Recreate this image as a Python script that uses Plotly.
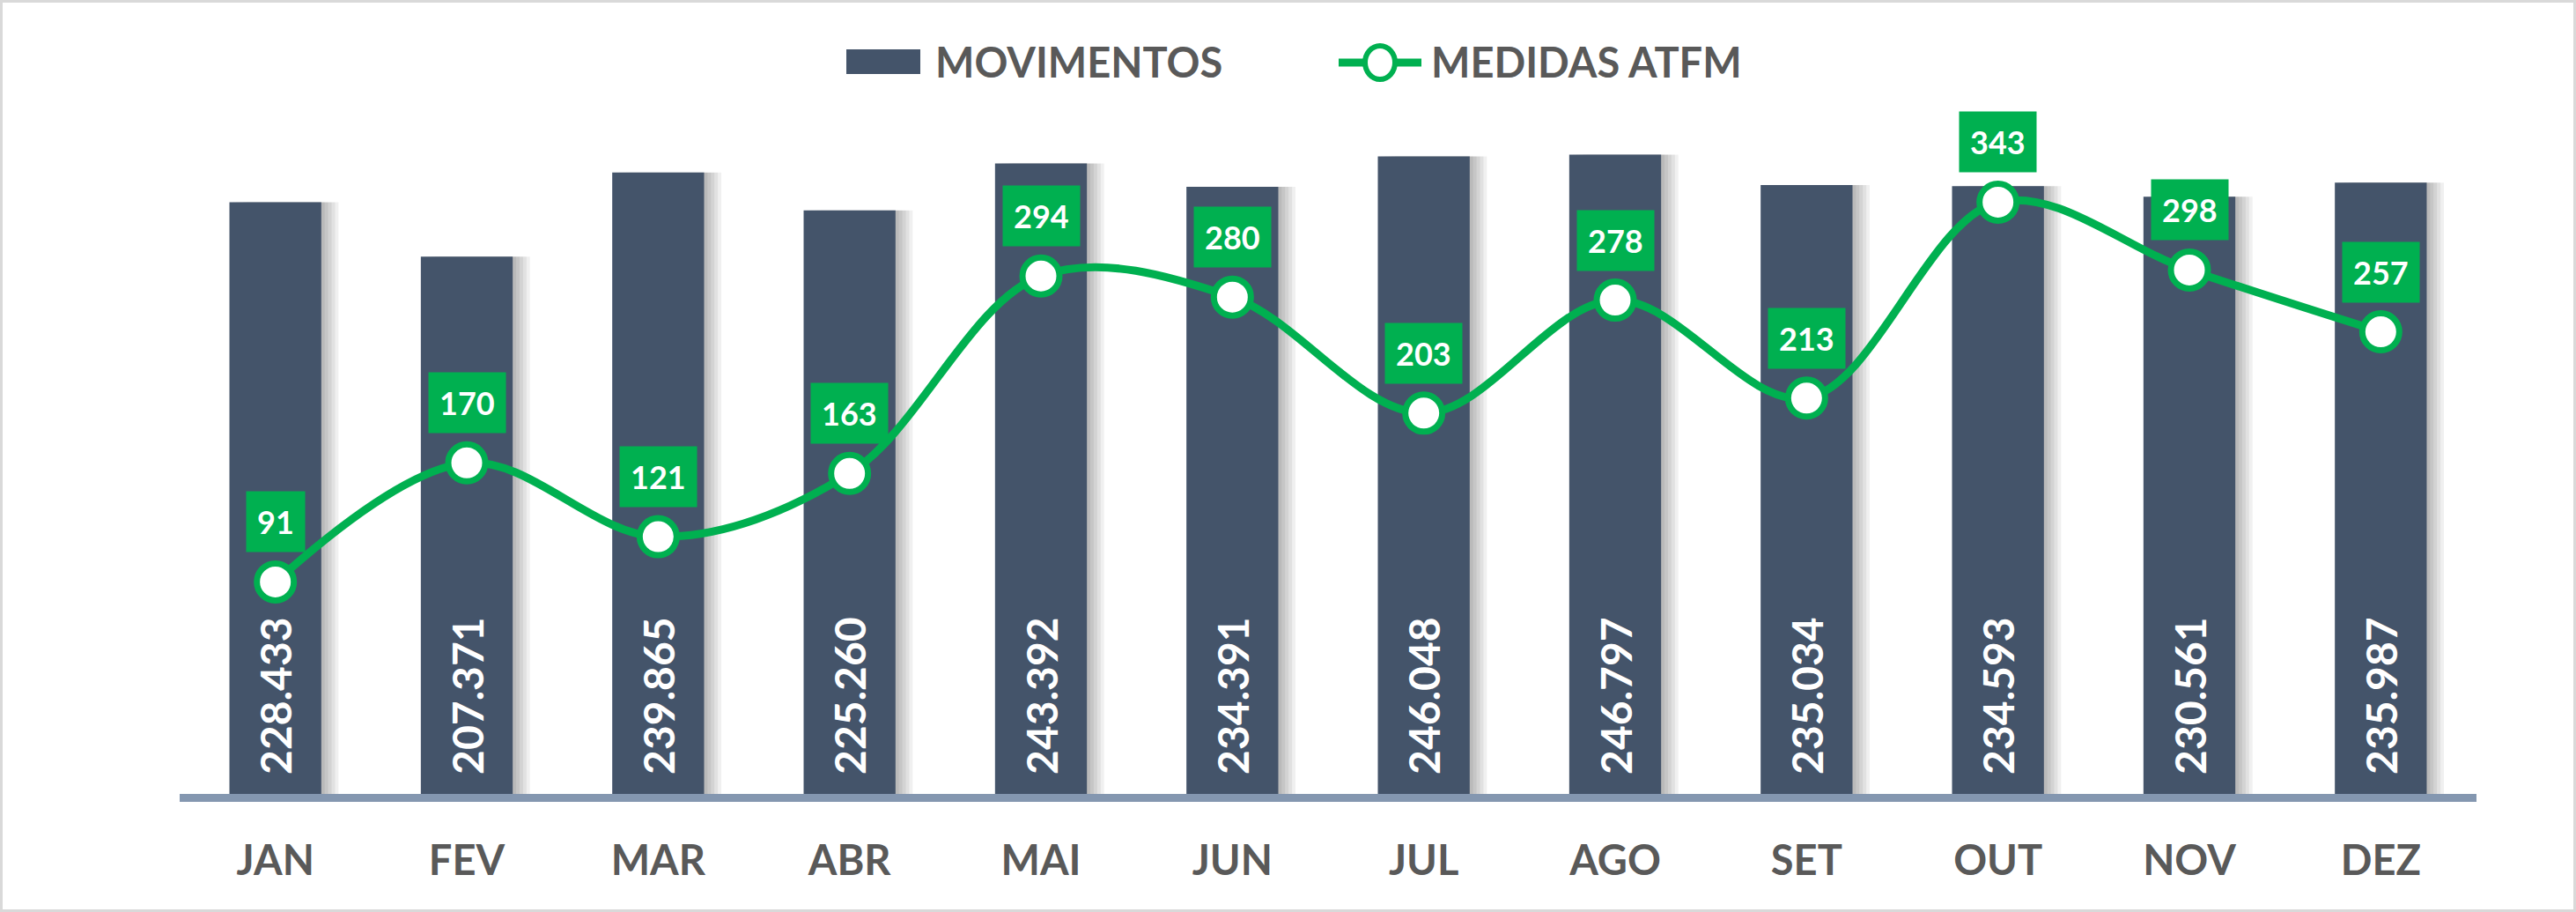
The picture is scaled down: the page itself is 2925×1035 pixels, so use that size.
import plotly.graph_objects as go

# ---- data ----
months = ["JAN", "FEV", "MAR", "ABR", "MAI", "JUN", "JUL", "AGO", "SET", "OUT", "NOV", "DEZ"]
movimentos = [228433, 207371, 239865, 225260, 243392, 234391, 246048, 246797, 235034, 234593, 230561, 235987]
medidas_atfm = [91, 170, 121, 163, 294, 280, 203, 278, 213, 343, 298, 257]
legend_names = ["MOVIMENTOS", "MEDIDAS ATFM"]

# ---- style ----
W, H = 2925, 1035
ML, MR, MT, MB = 204, 113, 100, 134
BAR_COLOR = "#44546A"
GREEN = "#00B050"
AXIS_COLOR = "#8497B0"
TEXT_GRAY = "#595959"
FONT = "Lato"
BAR_W = 0.48
LABEL_BASE = 6500  # lifts rotated bar labels off the baseline

plot_w = W - ML - MR
plot_h = H - MT - MB


def px_x(px):
    return (px - ML) / plot_w


def px_y(py):
    return (H - MB - py) / plot_h


fig = go.Figure()

# soft drop shadow to the right of each bar
for k in range(1, 6):
    fig.add_trace(go.Bar(
        x=months, y=movimentos, width=BAR_W, offset=-BAR_W / 2 + k * 0.018,
        marker=dict(color="rgba(0,0,0,0.06)", line=dict(width=0)),
        showlegend=False, hoverinfo="skip"))

fig.add_trace(go.Bar(
    x=months, y=movimentos, width=BAR_W, offset=-BAR_W / 2,
    marker=dict(color=BAR_COLOR, line=dict(width=0)),
    name=legend_names[0], showlegend=False))

labels = [f"{v:,}".replace(",", ".") for v in movimentos]
fig.add_trace(go.Bar(
    x=months, y=[v - LABEL_BASE for v in movimentos], base=LABEL_BASE,
    width=BAR_W, offset=-BAR_W / 2,
    marker=dict(color="rgba(0,0,0,0)", line=dict(width=0)),
    text=labels, textposition="inside", insidetextanchor="start", textangle=-90,
    constraintext="none",
    insidetextfont=dict(family=FONT, size=48, color="white", weight="bold"),
    showlegend=False, hoverinfo="skip"))

fig.add_trace(go.Scatter(
    x=months, y=medidas_atfm, yaxis="y2", mode="lines+markers",
    line=dict(color=GREEN, width=9, shape="spline", smoothing=1.0),
    marker=dict(size=42, color="white", line=dict(color=GREEN, width=7)),
    name=legend_names[1], showlegend=False))

annotations = []
for m, v in zip(months, medidas_atfm):
    annotations.append(dict(
        x=m, y=v, xref="x", yref="y2", yshift=68, text=str(v), showarrow=False,
        xanchor="center", yanchor="middle", bgcolor=GREEN, borderpad=12,
        font=dict(family=FONT, size=36, color="white", weight="bold")))

# custom legend
legend_font = dict(family=FONT, size=47, color=TEXT_GRAY, weight="bold")
annotations.append(dict(x=px_x(1060), y=px_y(70), xref="paper", yref="paper",
                        text=legend_names[0], showarrow=False, xanchor="left",
                        yanchor="middle", font=legend_font))
annotations.append(dict(x=px_x(1623), y=px_y(70), xref="paper", yref="paper",
                        text=legend_names[1], showarrow=False, xanchor="left",
                        yanchor="middle", font=legend_font))

shapes = [
    dict(type="rect", xref="paper", yref="paper", x0=px_x(961), x1=px_x(1045),
         y0=px_y(84), y1=px_y(56), fillcolor=BAR_COLOR, line=dict(width=0)),
    dict(type="line", xref="paper", yref="paper", x0=px_x(1520), x1=px_x(1614),
         y0=px_y(71), y1=px_y(71), line=dict(color=GREEN, width=9)),
    dict(type="circle", xref="paper", yref="paper", x0=px_x(1550), x1=px_x(1584),
         y0=px_y(90), y1=px_y(52), fillcolor="white", line=dict(color=GREEN, width=6)),
    # outer border
    dict(type="rect", xref="paper", yref="paper", x0=px_x(1.5), x1=px_x(W - 1.5),
         y0=px_y(H - 1.5), y1=px_y(1.5), line=dict(color="#D9D9D9", width=3),
         fillcolor="rgba(0,0,0,0)", layer="above"),
]

fig.update_layout(
    width=W, height=H, margin=dict(l=ML, r=MR, t=MT, b=MB),
    paper_bgcolor="white", plot_bgcolor="white",
    barmode="overlay", showlegend=False,
    font=dict(family=FONT),
    xaxis=dict(type="category", range=[-0.5, 11.5], showgrid=False, zeroline=False,
               showline=True, linecolor=AXIS_COLOR, linewidth=9, ticks="",
               ticklabelstandoff=27,
               tickfont=dict(family=FONT, size=47, color=TEXT_GRAY, weight="bold")),
    yaxis=dict(range=[0, 272450], visible=False, showgrid=False, zeroline=False),
    yaxis2=dict(range=[-49.7, 418.7], overlaying="y", visible=False,
                showgrid=False, zeroline=False),
    annotations=annotations, shapes=shapes,
)

fig.write_html("out.html")
